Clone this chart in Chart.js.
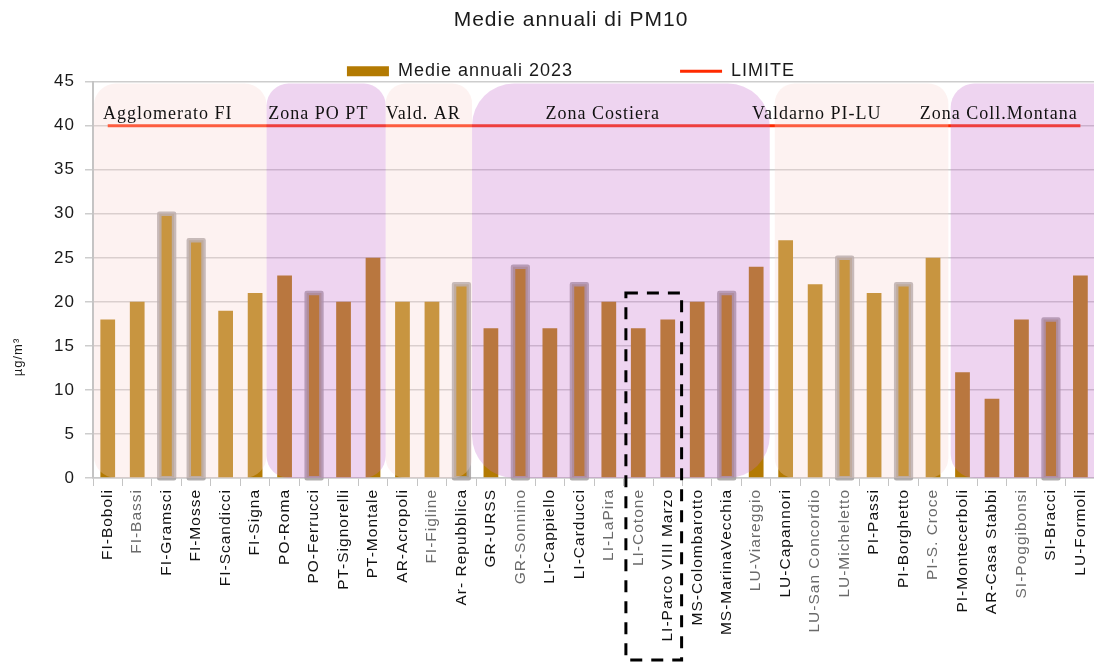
<!DOCTYPE html>
<html lang="it">
<head>
<meta charset="utf-8">
<title>Medie annuali di PM10</title>
<script src="https://cdn.jsdelivr.net/npm/chart.js@4.4.1/dist/chart.umd.min.js"></script>
<style>
  html, body { margin: 0; padding: 0; background: #fff; overflow: hidden; }
  #contenitore { width: 1102px; height: 662px; }
</style>
</head>
<body>
<div id="contenitore"><canvas id="grafico"></canvas></div>
<script>
// Stazioni e medie annuali 2023 (µg/m³)
const stazioni = [
  'FI-Boboli', 'FI-Bassi', 'FI-Gramsci', 'FI-Mosse', 'FI-Scandicci', 'FI-Signa',
  'PO-Roma', 'PO-Ferrucci', 'PT-Signorelli', 'PT-Montale',
  'AR-Acropoli', 'FI-Figline', 'Ar- Repubblica',
  'GR-URSS', 'GR-Sonnino', 'LI-Cappiello', 'LI-Carducci', 'LI-LaPira', 'LI-Cotone',
  'LI-Parco VIII Marzo', 'MS-Colombarotto', 'MS-MarinaVecchia', 'LU-Viareggio',
  'LU-Capannori', 'LU-San Concordio', 'LU-Micheletto', 'PI-Passi', 'PI-Borghetto', 'PI-S. Croce',
  'PI-Montecerboli', 'AR-Casa Stabbi', 'SI-Poggibonsi', 'SI-Bracci', 'LU-Formoli'
];
const medie = [
  18, 20, 30, 27, 19, 21,
  23, 21, 20, 25,
  20, 20, 22,
  17, 24, 17, 22, 20, 17, 18, 20, 21, 24,
  27, 22, 25, 21, 22, 25,
  12, 9, 18, 18, 23
];
const limite = [
  40, 40, 40, 40, 40, 40, 40, 40, 40, 40, 40, 40, 40, 40, 40, 40, 40,
  40, 40, 40, 40, 40, 40, 40, 40, 40, 40, 40, 40, 40, 40, 40, 40, 40
];

// stazioni col riquadro grigio
const evidenziate = [2, 3, 7, 12, 14, 16, 21, 25, 27, 32];
// etichette stampate più chiare
const etichetteChiare = [1, 11, 14, 17, 18, 22, 24, 25, 28, 31];
// stazioni nel riquadro tratteggiato e sua quota
const tratteggiate = [18, 19];
const quotaTratteggio = 21;

// Zone
const zoneNomi = ['Agglomerato FI', 'Zona PO PT', 'Vald. AR', 'Zona Costiera', 'Valdarno PI-LU', 'Zona Coll.Montana'];
const zoneInizio = [0, 6, 10, 13, 23, 29];
const zoneFine = [5, 9, 12, 22, 28, 33];

const rosa = 'rgba(248,211,208,0.3)';
const viola = 'rgba(198,112,205,0.3)';
// aspetto delle zone (spostamenti in frazioni di categoria)
const zoneStile = [
  { da: 0.03, a: -0.11, colore: rosa, raggio: 22, testo: 0.34 },
  { da: -0.11, a: -0.07, colore: viola, raggio: 22, testo: -0.05 },
  { da: -0.07, a: -0.14, colore: rosa, raggio: 20, testo: -0.07 },
  { da: -0.14, a: -0.04, colore: viola, raggio: 42, testo: 2.35 },
  { da: 0.13, a: 0.02, colore: rosa, raggio: 20, testo: -0.64 },
  { da: 0.1, a: 1, colore: viola, raggio: 24, testo: -0.95 }
];

const testo = '#1a1a1a';
const margineSinistro = 40;

const disegniExtra = {
  id: 'disegniExtra',
  beforeUpdate(chart) { chart.ctx.letterSpacing = '1px'; },
  beforeDraw(chart) { chart.ctx.letterSpacing = '1px'; },
  afterDatasetsDraw(chart) {
    const { ctx, scales: { x, y } } = chart;
    const barre = chart.getDatasetMeta(0).data;
    ctx.save();
    // riquadri grigi attorno ad alcune barre
    ctx.strokeStyle = 'rgba(165,160,160,0.85)';
    ctx.lineWidth = 4.5;
    ctx.lineJoin = 'round';
    evidenziate.forEach(i => {
      const b = barre[i];
      ctx.strokeRect(b.x - b.width / 2, b.y, b.width, b.base - b.y + 1);
    });
    // fasce delle zone
    const alto = y.getPixelForValue(44.8);
    const basso = y.getPixelForValue(0);
    zoneStile.forEach((z, i) => {
      const sx = x.getPixelForValue(zoneInizio[i] - 0.5 + z.da);
      const dx = x.getPixelForValue(zoneFine[i] + 0.5 + z.a);
      ctx.fillStyle = z.colore;
      ctx.beginPath();
      ctx.roundRect(sx, alto, dx - sx, basso - alto, z.raggio);
      ctx.fill();
    });
    ctx.restore();
  },
  afterDraw(chart) {
    const { ctx, scales: { x, y } } = chart;
    ctx.save();
    ctx.letterSpacing = '1px';
    // nomi delle zone
    ctx.font = '18px "Liberation Serif"';
    ctx.fillStyle = '#111';
    ctx.textAlign = 'left';
    ctx.textBaseline = 'alphabetic';
    zoneNomi.forEach((nome, i) => {
      const px = x.getPixelForValue(zoneInizio[i] - 0.5 + zoneStile[i].testo);
      ctx.fillText(nome, px, y.getPixelForValue(40) - 7);
    });
    // riquadro tratteggiato
    const sx = x.getPixelForValue(tratteggiate[0] - 0.42);
    const dx = x.getPixelForValue(tratteggiate[1] + 0.47);
    const top = y.getPixelForValue(quotaTratteggio);
    ctx.strokeStyle = '#000';
    ctx.lineWidth = 3;
    ctx.setLineDash([12, 9]);
    ctx.strokeRect(sx, top, dx - sx, chart.height - 2 - top);
    ctx.setLineDash([]);
    // unità di misura
    ctx.translate(18, 357);
    ctx.rotate(-Math.PI / 2);
    ctx.font = '13px "Liberation Sans"';
    ctx.fillStyle = testo;
    ctx.textAlign = 'center';
    ctx.textBaseline = 'middle';
    ctx.fillText('µg/m³', 0, 0);
    ctx.restore();
  }
};

const ctx = document.getElementById('grafico').getContext('2d');
const grafico = new Chart(ctx, {
  type: 'bar',
  data: {
    labels: stazioni,
    datasets: [
      {
        label: 'Medie annuali 2023',
        data: medie,
        backgroundColor: '#b37a02',
        borderWidth: 0,
        categoryPercentage: 1,
        barPercentage: 0.5
      },
      {
        type: 'line',
        label: 'LIMITE',
        data: limite,
        borderColor: '#ff2a00',
        backgroundColor: '#ff2a00',
        borderWidth: 3,
        pointRadius: 0,
        tension: 0
      }
    ]
  },
  options: {
    responsive: true,
    maintainAspectRatio: false,
    animation: false,
    layout: { padding: { left: margineSinistro } },
    plugins: {
      title: {
        display: true,
        text: 'Medie annuali di PM10',
        color: testo,
        font: { family: 'Liberation Sans', size: 21, weight: 'normal' },
        padding: { top: 8, bottom: 1 }
      },
      legend: {
        maxHeight: 47.5,
        labels: {
          color: testo,
          font: { family: 'Liberation Sans', size: 18 },
          usePointStyle: true,
          pointStyleWidth: 42,
          boxHeight: 10,
          padding: 28,
          generateLabels(chart) {
            const voci = Chart.defaults.plugins.legend.labels.generateLabels(chart);
            voci[0].pointStyle = 'rect';
            voci[0].lineWidth = 0;
            voci[1].pointStyle = 'line';
            voci[1].lineWidth = 3;
            const spazio = {
              text: '', fillStyle: 'rgba(0,0,0,0)', strokeStyle: 'rgba(0,0,0,0)',
              lineWidth: 0, pointStyle: 'rect', hidden: false, fontColor: testo
            };
            return [voci[0], spazio, voci[1]];
          }
        }
      },
      tooltip: { enabled: false }
    },
    scales: {
      x: {
        offset: true,
        grid: { drawOnChartArea: false, drawTicks: true, tickLength: 8, color: '#c4c4c4', offset: true },
        border: { color: '#c8c8c8', width: 1.5 },
        ticks: {
          autoSkip: false,
          maxRotation: 90,
          minRotation: 90,
          padding: 3,
          font: { family: 'Liberation Sans', size: 15.5 },
          color: c => etichetteChiare.includes(c.index) ? '#6a6a6a' : '#111'
        },
        afterFit(scale) { scale.height = 184; }
      },
      y: {
        min: 0,
        max: 45,
        ticks: {
          stepSize: 5,
          padding: 10,
          color: testo,
          font: { family: 'Liberation Sans', size: 17 }
        },
        grid: { color: '#cdcdcd', lineWidth: 1.5, tickLength: 8 },
        border: { color: '#c4c4c4', width: 2 },
        afterFit(scale) { scale.width = 93 - margineSinistro; }
      }
    }
  },
  plugins: [disegniExtra]
});
</script>
</body>
</html>
